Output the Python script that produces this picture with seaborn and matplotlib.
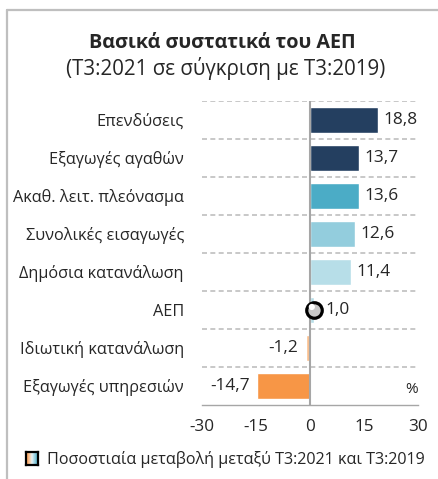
import numpy as np
import pandas as pd
import matplotlib
matplotlib.use('Agg')
import matplotlib.pyplot as plt
import seaborn as sns
from matplotlib.lines import Line2D

#=====DATA=====
categories = ["Επενδύσεις", "Εξαγωγές αγαθών", "Ακαθ. λειτ. πλεόνασμα",
              "Συνολικές εισαγωγές", "Δημόσια κατανάλωση", "ΑΕΠ",
              "Ιδιωτική κατανάλωση", "Εξαγωγές υπηρεσιών"]
values = [18.8, 13.7, 13.6, 12.6, 11.4, 1.0, -1.2, -14.7]
bar_colors = ["#243F60", "#243F60", "#4BACC6", "#93CDDD",
              "#B7DEE8", "#B7DEE8", "#FAC090", "#F79646"]
x_ticks = [-30, -15, 0, 15, 30]
title = "Βασικά συστατικά του ΑΕΠ"
subtitle = "(Τ3:2021 σε σύγκριση με Τ3:2019)"
legend_label = "Ποσοστιαία μεταβολή μεταξύ Τ3:2021 και Τ3:2019"

df = pd.DataFrame({"cat": categories, "val": values})

sns.set_style("white")
plt.rcParams['font.family'] = ['Open Sans', 'Noto Sans', 'DejaVu Sans']
W, H = 438, 479
fig = plt.figure(figsize=(W / 100, H / 100), dpi=100)

#=====FRAME=====
fig.add_artist(Line2D([7 / W, 7 / W], [0, 1 - 10 / H], transform=fig.transFigure,
                      color="#BFBFBF", lw=1.6))
fig.add_artist(Line2D([7 / W, 1], [1 - 10 / H, 1 - 10 / H], transform=fig.transFigure,
                      color="#BFBFBF", lw=1.6))

fig.text(222 / W, 1 - 43 / H, title, ha="center", va="center",
         fontsize=14.2, fontweight="bold")
fig.text(226 / W, 1 - 68 / H, subtitle, ha="center", va="center", fontsize=14.8)

#=====BARS=====
ax = fig.add_axes([202 / W, 1 - 405 / H, 216 / W, 304 / H])
sns.barplot(data=df, x="val", y="cat", hue="cat", palette=bar_colors,
            legend=False, ax=ax, width=0.66, orient="h", saturation=1)

ax.set_xlim(-30, 30)
ax.set_ylim(7.5, -0.5)
ax.set_xticks(x_ticks)
ax.set_xticklabels([str(t) for t in x_ticks], fontsize=12.3)
ax.set_xlabel("")
ax.set_ylabel("")
ax.tick_params(axis="y", length=0, labelsize=11.7, pad=13)
ax.tick_params(axis="x", length=4, width=1, color="#A6A6A6", direction="out", pad=6)

for s in ["top", "right", "left"]:
    ax.spines[s].set_visible(False)
ax.spines["bottom"].set_color("#A6A6A6")
ax.spines["bottom"].set_linewidth(1)

# dashed separators
for yy in np.arange(-0.5, 7, 1.0):
    ax.axhline(yy, color="#BFBFBF", lw=1.2, ls=(0, (3, 2)), zorder=0)
ax.axvline(0, color="#A6A6A6", lw=1.5, zorder=3)

# value labels
for i, v in enumerate(values):
    lab = f"{v:.1f}".replace(".", ",")
    if i == 5:
        ax.text(v + 3.3, i, lab, ha="left", va="center", fontsize=12.4)
    elif v >= 0:
        ax.text(v + 1.5, i, lab, ha="left", va="center", fontsize=12.4)
    else:
        ax.text(v - 2.0, i, lab, ha="right", va="center", fontsize=12.4)

# GDP marker
ax.scatter([values[5]], [5], s=125, facecolor="#C8C8C8", edgecolor="black",
           linewidth=2.3, zorder=5)
ax.scatter([values[5] - 0.5], [4.92], s=20, facecolor="white", edgecolor="none",
           zorder=6)

ax.text(30, 7.1, "%", ha="right", va="center", fontsize=11)

#=====LEGEND=====
lax = fig.add_axes([26 / W, 1 - 465 / H, 12 / W, 13 / H])
grad = np.linspace(0, 1, 50).reshape(1, -1)
cmap = matplotlib.colors.LinearSegmentedColormap.from_list(
    "g", ["#F79646", "#FAC090", "#E4F1F5", "#93CDDD", "#4BACC6"])
lax.imshow(grad, aspect="auto", cmap=cmap)
lax.set_xticks([])
lax.set_yticks([])
for s in lax.spines.values():
    s.set_color("black")
    s.set_linewidth(1.6)
fig.text(47 / W, 1 - 459 / H, legend_label, ha="left", va="center", fontsize=11.6)

fig.savefig("out.png", dpi=100)
